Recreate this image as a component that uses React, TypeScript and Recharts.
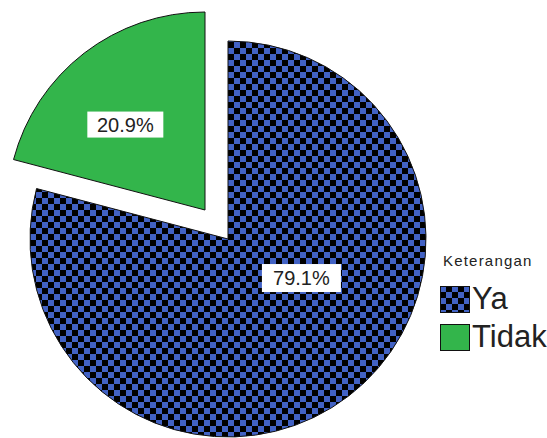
import React from "react";
import { PieChart, Pie, Cell, Legend } from "recharts";

const categories = ["Ya", "Tidak"];
const percents = [79.1, 20.9];
const legendTitle = "Keterangan";

const BLUE = "#4262c4";
const GREEN = "#33b54b";
const FONT = "'Liberation Sans', Arial, sans-serif";

const data = categories.map((name, i) => ({ name, value: percents[i] }));

// where SPSS put the value boxes (angle in degrees, radius as a share of the pie radius)
const labelSpots: Record<string, { angle: number; r: number }> = {
    Ya: { angle: -28, r: 0.42 },
    Tidak: { angle: 133, r: 0.59 },
};

function makeLabel(show: string) {
    return (props: any) => {
        const { cx, cy, outerRadius, name, value } = props;
        if (name !== show) return null;
        const spot = labelSpots[name];
        const rad = (spot.angle * Math.PI) / 180;
        const x = cx + outerRadius * spot.r * Math.cos(rad);
        const y = cy - outerRadius * spot.r * Math.sin(rad);
        const w = name === "Ya" ? 79 : 76;
        const h = name === "Ya" ? 28 : 26;
        return (
            <g>
                <rect x={x - w / 2} y={y - h / 2} width={w} height={h} fill="#fff" />
                <text
                    x={x}
                    y={y + 7}
                    textAnchor="middle"
                    fontSize={20}
                    fontFamily={FONT}
                    fill="#222"
                >
                    {value.toFixed(1)}%
                </text>
            </g>
        );
    };
}

function Swatch({ name }: { name: string }) {
    return (
        <svg width={30} height={27} style={{ display: "block" }}>
            <defs>
                <pattern id="checkerSmall" patternUnits="userSpaceOnUse" width={12} height={12}>
                    <rect width={12} height={12} fill="#000" />
                    <rect width={6} height={6} fill={BLUE} />
                    <rect x={6} y={6} width={6} height={6} fill={BLUE} />
                </pattern>
            </defs>
            <rect
                x={0.5}
                y={0.5}
                width={29}
                height={26}
                fill={name === "Ya" ? "url(#checkerSmall)" : GREEN}
                stroke="#111"
            />
        </svg>
    );
}

function LegendBox() {
    return (
        <div style={{ fontFamily: FONT, color: "#222" }}>
            <div style={{ fontSize: 15, letterSpacing: 1.2, marginLeft: 3, marginBottom: 11 }}>
                {legendTitle}
            </div>
            {categories.map((c) => (
                <div key={c} style={{ display: "flex", alignItems: "center", height: 38 }}>
                    <Swatch name={c} />
                    <span style={{ fontSize: 31, marginLeft: 2, lineHeight: "30px" }}>{c}</span>
                </div>
            ))}
        </div>
    );
}

export default function App() {
    return (
        <div style={{ position: "absolute", left: 0, top: 0, background: "#fff" }}>
            <PieChart width={547} height={438} margin={{ top: 0, right: 0, bottom: 0, left: 0 }}>
                <defs>
                    <pattern id="checker" patternUnits="userSpaceOnUse" width={12} height={12}>
                        <rect width={12} height={12} fill="#000" />
                        <rect width={6} height={6} fill={BLUE} />
                        <rect x={6} y={6} width={6} height={6} fill={BLUE} />
                    </pattern>
                </defs>
                <Pie
                    data={data}
                    dataKey="value"
                    nameKey="name"
                    cx={228}
                    cy={239}
                    outerRadius={198}
                    startAngle={90}
                    endAngle={-270}
                    label={makeLabel("Ya")}
                    labelLine={false}
                    isAnimationActive={false}
                >
                    {data.map((d) => (
                        <Cell
                            key={d.name}
                            fill={d.name === "Ya" ? "url(#checker)" : "none"}
                            stroke={d.name === "Ya" ? "#111" : "none"}
                            strokeWidth={1}
                        />
                    ))}
                </Pie>
                <Pie
                    data={data}
                    dataKey="value"
                    nameKey="name"
                    cx={205}
                    cy={210}
                    outerRadius={198}
                    startAngle={90}
                    endAngle={-270}
                    label={makeLabel("Tidak")}
                    labelLine={false}
                    isAnimationActive={false}
                >
                    {data.map((d) => (
                        <Cell
                            key={d.name}
                            fill={d.name === "Tidak" ? GREEN : "none"}
                            stroke={d.name === "Tidak" ? "#111" : "none"}
                            strokeWidth={1}
                        />
                    ))}
                </Pie>
                <Legend
                    layout="vertical"
                    content={() => <LegendBox />}
                    wrapperStyle={{ position: "absolute", left: 440, top: 252, width: 110 }}
                />
            </PieChart>
        </div>
    );
}
